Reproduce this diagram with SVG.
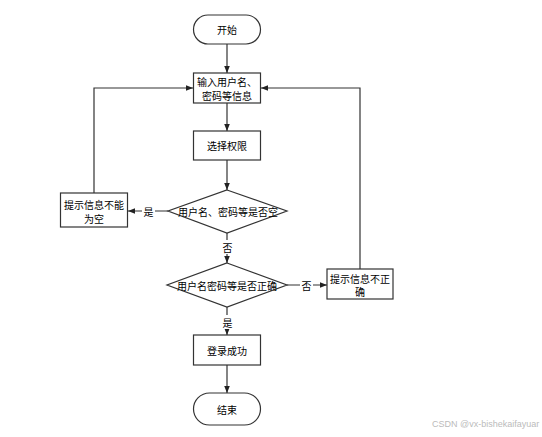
<svg xmlns="http://www.w3.org/2000/svg" width="542" height="437" viewBox="0 0 542 437">
<defs>
<marker id="arr" viewBox="0 0 10 10" refX="10" refY="5" markerWidth="7" markerHeight="7" orient="auto" markerUnits="userSpaceOnUse">
<path d="M0,1 L10,5 L0,9 z" fill="#222"/>
</marker>
<style>
.shape{fill:#fff;stroke:#333;stroke-width:1.2}
.line{fill:none;stroke:#333;stroke-width:1.2;marker-end:url(#arr)}
.t{font-family:"Noto Sans CJK SC","Liberation Sans",sans-serif;font-size:10px;fill:#000;text-anchor:middle;dominant-baseline:central}
.lbl{fill:#fff}
.wm{font-family:"Liberation Sans",sans-serif;font-size:9px;fill:#bbb}
</style>
</defs>
<rect width="542" height="437" fill="#fff"/>
<g id="connectors">
<line class="line" x1="227" y1="44" x2="227" y2="73"/>
<line class="line" x1="227" y1="103" x2="227" y2="131"/>
<line class="line" x1="227" y1="160" x2="227" y2="190"/>
<line class="line" x1="168" y1="211" x2="128" y2="211"/>
<line class="line" x1="227" y1="233" x2="227" y2="263"/>
<line class="line" x1="287" y1="285" x2="327" y2="285"/>
<line class="line" x1="227" y1="307" x2="227" y2="335"/>
<line class="line" x1="227" y1="365" x2="227" y2="393"/>
<polyline class="line" points="94,193 94,88 193,88"/>
<polyline class="line" points="360,269 360,88 261,88"/>
<rect class="lbl" x="142" y="204" width="13" height="14"/>
<text class="t" x="148.5" y="211">是</text>
<rect class="lbl" x="221" y="240" width="13" height="14"/>
<text class="t" x="227.5" y="247">否</text>
<rect class="lbl" x="300" y="278" width="13" height="14"/>
<text class="t" x="306.5" y="285">否</text>
<rect class="lbl" x="221" y="315" width="13" height="14"/>
<text class="t" x="227.5" y="322">是</text>
</g>
<g id="start">
<rect class="shape" x="193.5" y="15" width="67" height="29" rx="14.5"/>
<text class="t" x="227" y="29.5">开始</text>
</g>
<g id="input">
<rect class="shape" x="193.5" y="73" width="67" height="30"/>
<text class="t" x="227" y="81.5">输入用户名、</text>
<text class="t" x="227" y="95">密码等信息</text>
</g>
<g id="select">
<rect class="shape" x="193.5" y="131" width="67" height="29"/>
<text class="t" x="227" y="145.5">选择权限</text>
</g>
<g id="check-empty">
<polygon class="shape" points="227,190 287,211 227,233 168,211"/>
<text class="t" x="228" y="211">用户名、密码等是否空</text>
</g>
<g id="tip-empty">
<rect class="shape" x="60.5" y="193" width="67" height="34"/>
<text class="t" x="94" y="204.5">提示信息不能</text>
<text class="t" x="94" y="218">为空</text>
</g>
<g id="check-correct">
<polygon class="shape" points="227,263 287,285 227,307 167,285"/>
<text class="t" x="227" y="285">用户名密码等是否正确</text>
</g>
<g id="tip-wrong">
<rect class="shape" x="327" y="269" width="66" height="30"/>
<text class="t" x="360" y="278">提示信息不正</text>
<text class="t" x="360" y="291.5">确</text>
</g>
<g id="success">
<rect class="shape" x="193.5" y="335" width="67" height="30"/>
<text class="t" x="227" y="350">登录成功</text>
</g>
<g id="end">
<rect class="shape" x="193.5" y="393" width="67" height="32" rx="16"/>
<text class="t" x="227" y="409">结束</text>
</g>
<text class="wm" x="432" y="427">CSDN @vx-bishekaifayuar</text>
</svg>
